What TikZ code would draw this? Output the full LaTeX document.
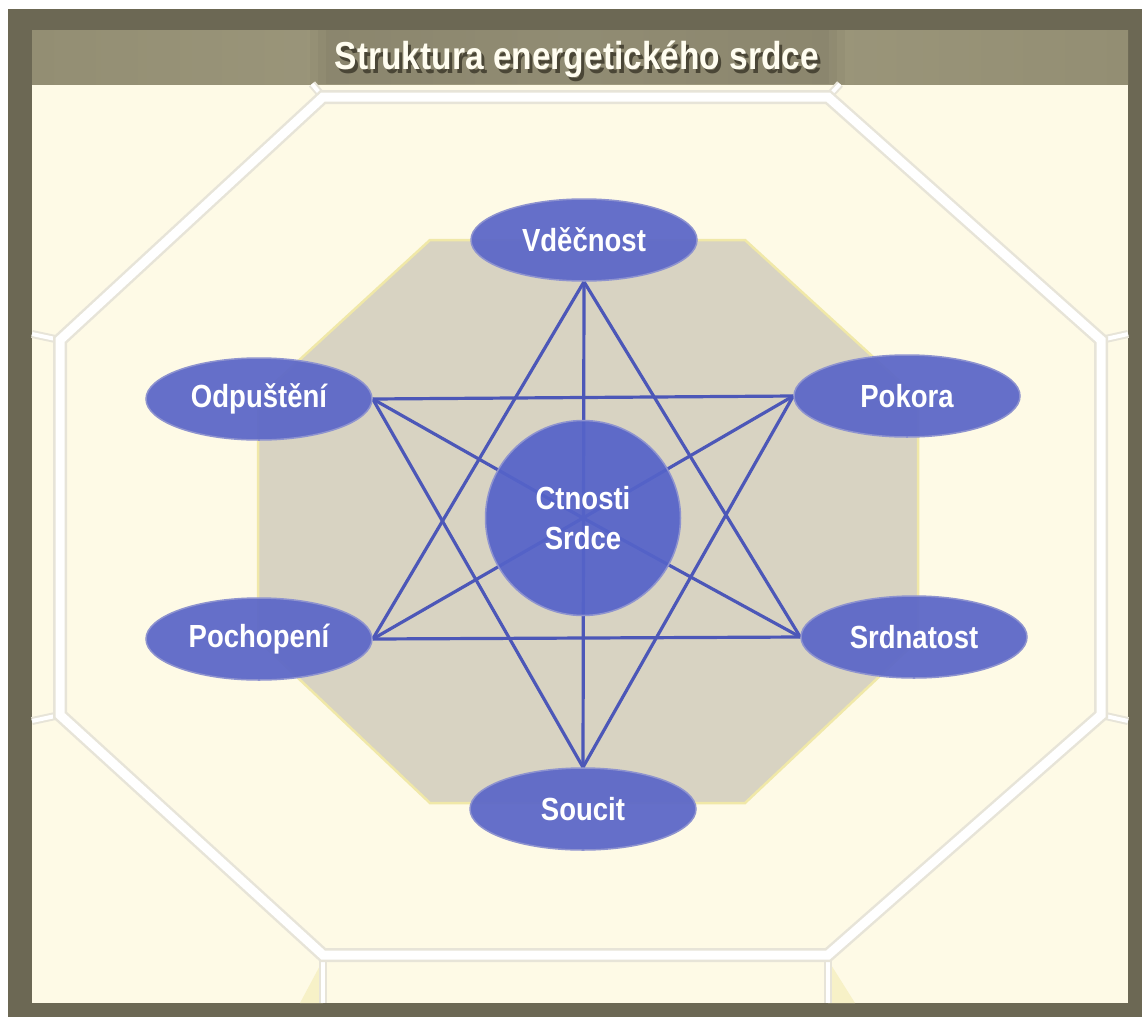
\documentclass[tikz,border=0pt]{standalone}
\usepackage{fontspec}
\newfontfamily\narrowfont[FakeStretch=0.86]{Liberation Sans}
\usetikzlibrary{shapes.geometric}
\pgfdeclarelayer{bg}
\pgfdeclarelayer{edges}
\pgfsetlayers{bg,edges,main}
\definecolor{framec}{HTML}{6C6854}
\definecolor{creamc}{HTML}{FEFAE6}
\definecolor{banddark}{HTML}{938E73}
\definecolor{bandlight}{HTML}{A09B7F}
\definecolor{shadowc}{HTML}{4A4636}
\definecolor{tilegrey}{HTML}{E7E4D8}
\definecolor{octfill}{HTML}{D8D3C2}
\definecolor{octline}{HTML}{F0E8A8}
\definecolor{nodeblue}{HTML}{5C67C8}
\definecolor{nodeglow}{HTML}{8E93CF}
\definecolor{circblue}{HTML}{5563C9}
\definecolor{linkblue}{HTML}{4C57B8}
\definecolor{titlewhite}{HTML}{FFFDF0}
\tikzset{
  ell/.style={ellipse, fill=nodeblue, fill opacity=0.94, text opacity=1,
    draw=nodeglow, line width=1.5pt,
    minimum width=226pt, minimum height=82pt, inner sep=0pt,
    text=white, font=\narrowfont\bfseries\fontsize{32}{38}\selectfont},
  circ/.style={circle, fill=circblue, fill opacity=0.93, text opacity=1,
    draw=nodeglow, line width=1.5pt,
    minimum size=195pt, inner sep=0pt, align=center,
    text=white, font=\narrowfont\bfseries\fontsize{32}{40}\selectfont},
  link/.style={draw=linkblue, line width=3.2pt},
  tileouter/.style={draw=tilegrey, line width=14pt, line join=miter},
  tileinner/.style={draw=white, line width=9pt, line join=miter},
  stubouter/.style={draw=tilegrey, line width=8pt},
  stubinner/.style={draw=white, line width=4pt},
  titlefont/.style={font=\narrowfont\bfseries\fontsize{39}{44}\selectfont},
  softbox/.style={fill=black, opacity=0.03}
}
\newcommand{\titletext}{Struktura energetického srdce}
\begin{document}
\begin{tikzpicture}[x=1pt,y=-1pt]
\useasboundingbox (0,0) rectangle (1142,1017);
\begin{pgfonlayer}{bg}
\fill[white] (0,0) rectangle (1142,1017);
\fill[framec] (8,9) rectangle (1142,1017);
\fill[creamc] (32,83) rectangle (1128,1003);
\shade[left color=banddark, right color=banddark, middle color=bandlight] (32,30) rectangle (1128,84);
\fill[softbox] (310,30) rectangle (845,84);
\fill[softbox] (318,30) rectangle (837,84);
\fill[softbox] (326,30) rectangle (829,84);
% faint neighbour tiles at bottom
\fill[octline!50!creamc] (300,1003) -- (323,960) -- (323,1003) -- cycle;
\fill[octline!50!creamc] (855,1003) -- (828,960) -- (828,1003) -- cycle;
% stubs of neighbouring tiles
\foreach \s in {stubouter,stubinner}{
  \draw[\s] (60,340) -- (32,334);
  \draw[\s] (60,715) -- (32,721);
  \draw[\s] (1101,340) -- (1128,334);
  \draw[\s] (1101,715) -- (1128,721);
  \draw[\s] (323,97) -- (312,84);
  \draw[\s] (828,97) -- (840,84);
  \draw[\s] (323,955) -- (323,1003);
  \draw[\s] (828,955) -- (828,1003);
}
% outer octagon band
\foreach \s in {tileouter,tileinner}{
  \draw[\s] (60,340) -- (323,97) -- (828,97) -- (1101,340) -- (1101,715) -- (828,955) -- (323,955) -- (60,715) -- cycle;
}
% inner octagon
\filldraw[fill=octfill, draw=octline, line width=2.5pt, line join=miter]
  (258,398) -- (430,240) -- (745,240) -- (918,398) -- (918,640) -- (745,803) -- (430,803) -- (258,640) -- cycle;
\end{pgfonlayer}
% title (with its shadow in the same text)
\node[titlefont, text=titlewhite, anchor=base] (title) at (577,69)
  {\rlap{\kern3pt\raisebox{-4pt}{\color{shadowc}\titletext}}\titletext};
% nodes
\node[ell] (V) at (584,240) {Vděčnost};
\node[ell] (O) at (259,399) {Odpuštění};
\node[ell] (P) at (907,396) {Pokora};
\node[ell] (Pc) at (259,639) {Pochopení};
\node[ell] (Sr) at (914,637) {Srdnatost};
\node[ell] (So) at (583,809) {Soucit};
\node[circ] (C) at (583,518) {Ctnosti\\Srdce};
% connectors
\begin{pgfonlayer}{edges}
\draw[link] (V.south) -- (So.north);
\draw[link] (V.south) -- (Pc.east);
\draw[link] (V.south) -- (Sr.west);
\draw[link] (Pc.east) -- (Sr.west);
\draw[link] (So.north) -- (O.east);
\draw[link] (So.north) -- (P.west);
\draw[link] (O.east) -- (P.west);
\draw[link] (O.east) -- (C.center);
\draw[link] (P.west) -- (C.center);
\draw[link] (Pc.east) -- (C.center);
\draw[link] (Sr.west) -- (C.center);
\end{pgfonlayer}
\end{tikzpicture}
\end{document}
